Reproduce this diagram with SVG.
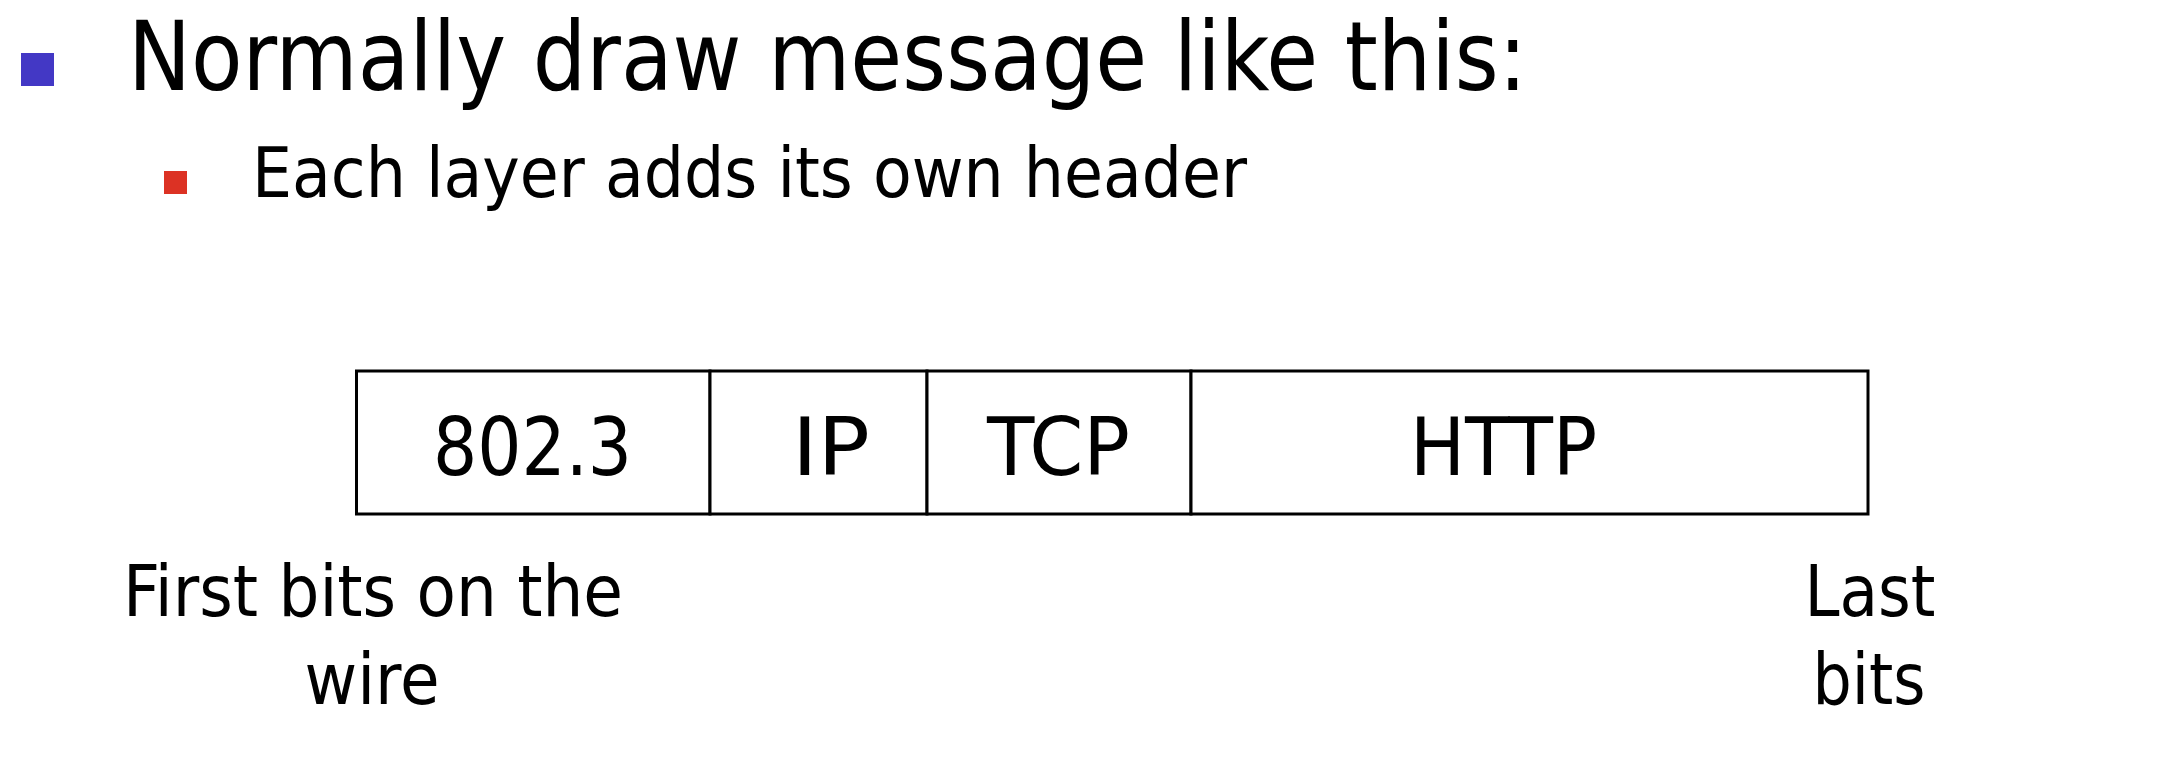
<svg xmlns="http://www.w3.org/2000/svg" width="2163" height="770" viewBox="0 0 2163 770">
<style>
  text { font-family: "DejaVu Sans Condensed", "DejaVu Sans", "Liberation Sans", sans-serif; font-stretch: condensed; fill: #000; }
  .title { font-size: 96px; }
  .sub { font-size: 70px; }
  .cell { font-size: 80px; text-anchor: middle; }
  .lbl { font-size: 71px; text-anchor: middle; }
  .box { fill: #fff; stroke: #000; stroke-width: 3; }
</style>
<rect width="2163" height="770" fill="#fff"/>
<g id="bullets">
  <rect x="21" y="53" width="33" height="33" fill="#4338C5"/>
  <rect x="164" y="171" width="23" height="23" fill="#DC3224"/>
</g>
<g id="heading">
  <text class="title" x="128" y="90" textLength="1399" lengthAdjust="spacingAndGlyphs">Normally draw message like this:</text>
  <text class="sub" x="252" y="197" textLength="995" lengthAdjust="spacingAndGlyphs">Each layer adds its own header</text>
</g>
<g id="cell-8023">
  <rect class="box" x="356.5" y="371" width="353.5" height="143"/>
  <text class="cell" x="532.5" y="475" textLength="199" lengthAdjust="spacingAndGlyphs">802.3</text>
</g>
<g id="cell-ip">
  <rect class="box" x="710" y="371" width="217" height="143"/>
  <text class="cell" x="831" y="475" textLength="78" lengthAdjust="spacingAndGlyphs">IP</text>
</g>
<g id="cell-tcp">
  <rect class="box" x="927" y="371" width="264" height="143"/>
  <text class="cell" x="1058.5" y="475" textLength="143" lengthAdjust="spacingAndGlyphs">TCP</text>
</g>
<g id="cell-http">
  <rect class="box" x="1191" y="371" width="677" height="143"/>
  <text class="cell" x="1503.5" y="475" textLength="187" lengthAdjust="spacingAndGlyphs">HTTP</text>
</g>
<g id="label-first">
  <text class="lbl" x="373" y="616" textLength="500" lengthAdjust="spacingAndGlyphs">First bits on the</text>
  <text class="lbl" x="372" y="704" textLength="135" lengthAdjust="spacingAndGlyphs">wire</text>
</g>
<g id="label-last">
  <text class="lbl" x="1870" y="616" textLength="131" lengthAdjust="spacingAndGlyphs">Last</text>
  <text class="lbl" x="1869" y="704" textLength="113" lengthAdjust="spacingAndGlyphs">bits</text>
</g>
<g id="connectors"></g>
</svg>
